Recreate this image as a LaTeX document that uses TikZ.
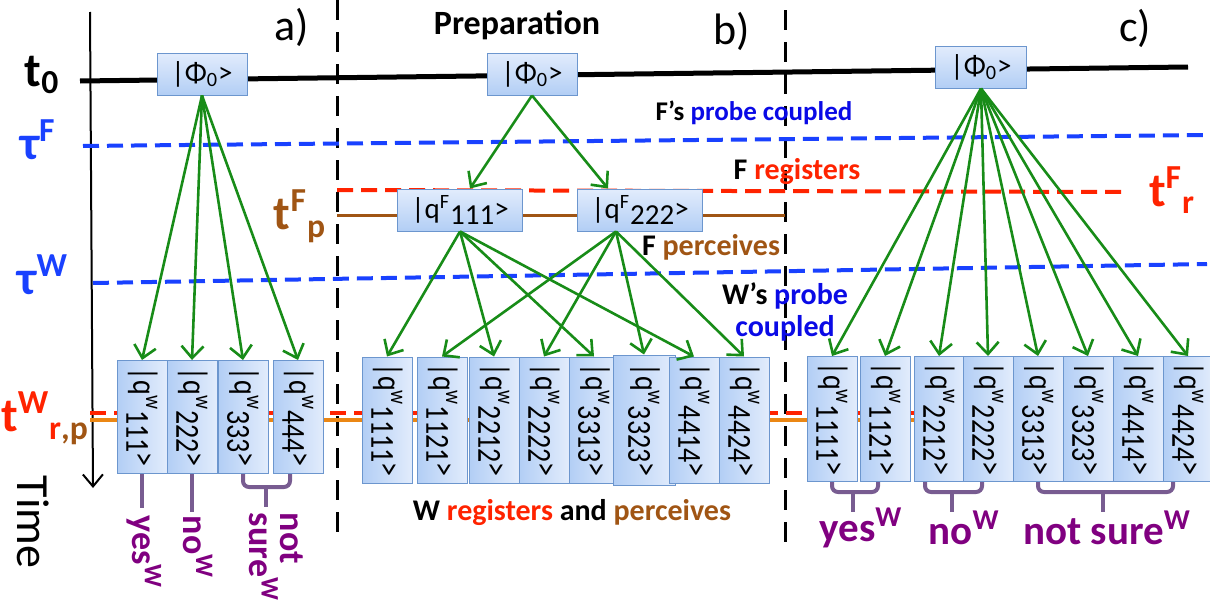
\documentclass[tikz,border=0pt]{standalone}
\usepackage{fontspec}
\setmainfont{Carlito}
\usetikzlibrary{arrows.meta}

\definecolor{boxlight}{RGB}{226,236,252}
\definecolor{boxdark}{RGB}{178,206,245}
\definecolor{boxedge}{RGB}{108,150,206}
\definecolor{branchgreen}{RGB}{24,140,24}
\definecolor{probeblue}{RGB}{25,65,255}
\definecolor{textblue}{RGB}{10,10,230}
\definecolor{regred}{RGB}{255,35,0}
\definecolor{percbrown}{RGB}{160,85,20}
\definecolor{percorange}{RGB}{235,135,20}
\definecolor{verdictline}{RGB}{120,92,145}
\definecolor{verdictpurple}{RGB}{128,0,128}

\newcommand{\tfont}{\fontsize{24}{24}\selectfont\bfseries}
\newcommand{\lblfont}{\fontsize{15}{16}\selectfont\bfseries}
\newcommand{\qket}[1]{\rotatebox{-90}{\scalebox{1}[1.2]{|q\textsuperscript{w}\raisebox{-0.45ex}{#1}>}}}

\begin{document}
\begin{tikzpicture}[x=0.5pt,y=-0.5pt,
  state/.style={draw=boxedge,line width=0.5pt,top color=boxlight,bottom color=boxdark,inner sep=0pt,minimum height=21pt,font=\fontsize{14.5}{14.5}\selectfont},
  wstate/.style={draw=boxedge,line width=0.5pt,left color=boxdark,right color=boxlight,inner sep=0pt,minimum width=25pt,font=\fontsize{14}{14}\selectfont},
  branch/.style={draw=branchgreen,line width=1.3pt,-{Straight Barb[length=6pt,width=11pt,line width=1.3pt]}},
  verdict/.style={draw=verdictline,line width=2pt,rounded corners=3pt},
  verdicttext/.style={text=verdictpurple,font=\fontsize{20.5}{15}\selectfont\bfseries},
  probe/.style={draw=probeblue,line width=2pt,dash pattern=on 8pt off 4pt},
  regline/.style={draw=regred,line width=2pt,dash pattern=on 8pt off 4pt},
  panelsep/.style={draw=black,line width=1.5pt,dash pattern=on 10pt off 6pt}]
\useasboundingbox (0,0) rectangle (1210,605);

% time axis
\draw[line width=1pt,-{Straight Barb[length=6pt,width=10pt]}] (90,12) -- (93,488);
\node[rotate=-90,font=\fontsize{23}{23}\selectfont] (time) at (33,522) {Time};

% panels
\draw[panelsep] (337,0) -- (337,540);
\draw[panelsep] (785,10) -- (785,545);
\node[font=\fontsize{22}{22}\selectfont] (pa) at (292,27) {a)};
\node[font=\fontsize{22}{22}\selectfont] (pb) at (732,31) {b)};
\node[font=\fontsize{22}{22}\selectfont] (pc) at (1135,28) {c)};

% time levels
\draw[line width=2.5pt] (80,81) -- (1188,67);
\draw[probe] (83,146) -- (1207,135);
\draw[probe] (93,283) -- (1207,264);
\draw[regline] (337,190) -- (1128,192);
\draw[draw=percbrown,line width=1.5pt] (337,215) -- (785,215);
\draw[draw=percorange,line width=2pt] (90,420) -- (960,420);
\draw[regline] (90,413) -- (960,413);

\node[font=\tfont] (t0) at (42,75) {t\textsubscript{0}};
\node[font=\tfont,text=probeblue] (tauF) at (38,140) {τ\textsuperscript{F}};
\node[font=\tfont,text=probeblue] (tauW) at (43,275) {τ\textsuperscript{W}};
\node[font=\tfont,text=percbrown] (tFp) at (300,216) {t\textsuperscript{F}\textsubscript{p}};
\node[font=\tfont,text=regred] (tFr) at (1172,190) {t\textsuperscript{F}\textsubscript{r}};
\node[font=\tfont,text=regred] (tWrp) at (45,418) {t\textsuperscript{W}\textsubscript{r\textcolor{percbrown}{,p}}};

\node[font=\fontsize{17}{17}\selectfont\bfseries] (prep) at (517,25) {Preparation};
\node[font=\fontsize{13.5}{16}\selectfont\bfseries] (fprobe) at (754,113) {F’s \textcolor{textblue}{probe coupled}};
\node[font=\lblfont] (freg) at (797,172) {F \textcolor{regred}{registers}};
\node[font=\lblfont] (fperc) at (711,247) {F \textcolor{percbrown}{perceives}};
\node[font=\lblfont,align=center] (wprobe) at (785,312) {W’s \textcolor{textblue}{probe}\\\textcolor{textblue}{coupled}};
\node[font=\lblfont] (wregperc) at (572,513) {W \textcolor{regred}{registers} and \textcolor{percbrown}{perceives}};

% states
\node[state,minimum width=45pt] (phiA) at (202,74) {|Φ\textsubscript{0}>};
\node[state,minimum width=45pt] (phiB) at (532,74) {|Φ\textsubscript{0}>};
\node[state,minimum width=45.5pt] (phiC) at (981,67) {|Φ\textsubscript{0}>};
\node[state,minimum width=62.5pt] (qF1) at (460,210) {|q\textsuperscript{F}\raisebox{-0.45ex}{111}>};
\node[state,minimum width=62.5pt] (qF2) at (640,210) {|q\textsuperscript{F}\raisebox{-0.45ex}{222}>};

\foreach \x/\n [count=\i] in {142/111,192/222,243/333,298/444}
  \node[wstate,minimum height=56.5pt] (wa\i) at (\x,417) {\qket{\n}};
\foreach \x/\n/\w/\h [count=\i] in {387/1111/25/63,442/1121/25/63,494/2212/25/63,544/2222/25/63,594/3313/25/63,644/3323/31/65,694/4414/25/63,744/4424/25/63}
  \node[wstate,minimum width=\w pt,minimum height=\h pt] (wb\i) at (\x,420) {\qket{\n}};
\foreach \x/\n [count=\i] in {832/1111,885/1121,939/2212,988/2222,1038/3313,1088/3323,1138/4414,1188/4424}
  \node[wstate,minimum height=62.5pt] (wc\i) at (\x,419) {\qket{\n}};

% branches
\foreach \i in {1,...,4}
  \draw[branch] (phiA.south) -- (wa\i.north);
\draw[branch] (phiB.south) -- ([xshift=5pt]qF1.north);
\draw[branch] (phiB.south) -- ([xshift=-16pt]qF2.north);
\foreach \i in {1,3,5,7}
  \draw[branch] (qF1.south) -- (wb\i.north);
\foreach \i in {2,4,6,8}
  \draw[branch] ([xshift=-12pt]qF2.south) -- (wb\i.north);
\foreach \i in {1,...,8}
  \draw[branch] (phiC.south) -- (wc\i.north);

% answers
\draw[verdict] (wa1.south) -- (142,508);
\draw[verdict] (wa2.south) -- (192,512);
\draw[verdict] (wa3.south) -- ++(0,13) -- ++(47,0) -- ++(0,-13);
\draw[verdict] (266,487) -- (266,507);
\node[verdicttext,font=\fontsize{18}{13.5}\selectfont\bfseries,rotate=-90] (yesA) at (144,552) {yes\textsuperscript{W}};
\node[verdicttext,font=\fontsize{18}{13.5}\selectfont\bfseries,rotate=-90] (noA) at (198,547) {no\textsuperscript{W}};
\node[verdicttext,font=\fontsize{18}{13.5}\selectfont\bfseries,rotate=-90,align=left] (notsureA) at (276,557) {not\\sure\textsuperscript{W}};

\draw[verdict] (wc1.south) -- ++(0,10) -- ++(46,0) -- ++(0,-10);
\draw[verdict] (853,492) -- (853,512);
\draw[verdict] ([xshift=-7pt]wc3.south) -- ++(0,10) -- ++(57,0) -- ++(0,-10);
\draw[verdict] (952,492) -- (952,512);
\draw[verdict] (wc5.south) -- ++(0,10) -- ++(135,0) -- ++(0,-10);
\draw[verdict] (1103,492) -- (1103,512);
\node[verdicttext] (yesC) at (861,528) {yes\textsuperscript{W}};
\node[verdicttext] (noC) at (964,528) {no\textsuperscript{W}};
\node[verdicttext] (notsureC) at (1107,528) {not sure\textsuperscript{W}};
\end{tikzpicture}
\end{document}
